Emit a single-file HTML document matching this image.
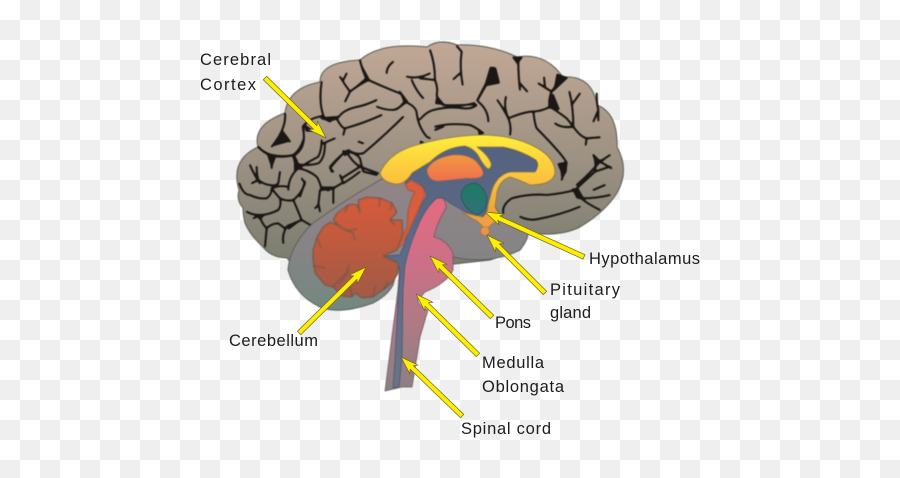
<!DOCTYPE html>
<html><head><meta charset="utf-8"><style>
html,body{margin:0;padding:0;background:#fff}
svg{display:block}
text{font-family:"Liberation Sans",sans-serif;font-size:16.5px;fill:#1c1c1c}
</style></head><body>
<svg xmlns="http://www.w3.org/2000/svg" width="900" height="478" viewBox="0 0 900 478">
<defs>
<filter id="soft" x="-5%" y="-5%" width="110%" height="110%" color-interpolation-filters="sRGB">
<feGaussianBlur stdDeviation="0.7"/>
<feComponentTransfer><feFuncA type="linear" slope="3" intercept="-0.8"/></feComponentTransfer>
</filter>
<filter id="soft2" x="-5%" y="-5%" width="110%" height="110%" color-interpolation-filters="sRGB">
<feGaussianBlur stdDeviation="0.45"/>
</filter>
<pattern id="ck" width="40" height="40" patternUnits="userSpaceOnUse">
<rect width="40" height="40" fill="#fff"/>
<rect x="20" width="20" height="20" fill="#efefef"/>
<rect y="20" width="20" height="20" fill="#efefef"/>
</pattern>
<linearGradient id="cx" gradientUnits="userSpaceOnUse" x1="0" y1="42" x2="0" y2="260">
<stop offset="0" stop-color="#c2a896"/><stop offset=".5" stop-color="#9f9384"/><stop offset="1" stop-color="#7c7d70"/>
</linearGradient>
<linearGradient id="gr" gradientUnits="userSpaceOnUse" x1="0" y1="170" x2="0" y2="312">
<stop offset="0" stop-color="#948488"/><stop offset=".55" stop-color="#868486"/><stop offset="1" stop-color="#72897f"/>
</linearGradient>
<linearGradient id="bl" gradientUnits="userSpaceOnUse" x1="0" y1="140" x2="0" y2="390">
<stop offset="0" stop-color="#56627f"/><stop offset=".4" stop-color="#5a6a88"/><stop offset="1" stop-color="#6a7588"/>
</linearGradient>
<linearGradient id="ye" gradientUnits="userSpaceOnUse" x1="0" y1="135" x2="0" y2="215">
<stop offset="0" stop-color="#ffee3c"/><stop offset=".5" stop-color="#fcc63e"/><stop offset="1" stop-color="#f0a03e"/>
</linearGradient>
<linearGradient id="or" gradientUnits="userSpaceOnUse" x1="0" y1="155" x2="0" y2="182">
<stop offset="0" stop-color="#f2983f"/><stop offset="1" stop-color="#ef6e50"/>
</linearGradient>
<linearGradient id="te" gradientUnits="userSpaceOnUse" x1="0" y1="182" x2="0" y2="216">
<stop offset="0" stop-color="#1a7d62"/><stop offset="1" stop-color="#33707a"/>
</linearGradient>
<linearGradient id="pk" gradientUnits="userSpaceOnUse" x1="0" y1="195" x2="0" y2="390">
<stop offset="0" stop-color="#e66a80"/><stop offset=".35" stop-color="#cc7088"/><stop offset=".65" stop-color="#b07a84"/><stop offset="1" stop-color="#8a8084"/>
</linearGradient>
<linearGradient id="rd" gradientUnits="userSpaceOnUse" x1="0" y1="195" x2="0" y2="300">
<stop offset="0" stop-color="#d85a3a"/><stop offset=".6" stop-color="#b65a40"/><stop offset="1" stop-color="#a05a48"/>
</linearGradient>
</defs>
<rect width="900" height="478" fill="url(#ck)"/>

<g filter="url(#soft2)">
<!-- cortex silhouette -->
<path fill="url(#cx)" stroke="#5a5a50" stroke-width="1" stroke-linejoin="round" d="M287,258 Q272,258 263,247 Q250,235 245,223 Q243,215 243,208 Q236,200 239,190 Q230,160 258,147 Q252,125 285,113 Q288,88 320,82 Q320,62 360,60 Q380,42 427,47 Q440,38 457,45 Q490,44 517,57 Q545,52 563,77 Q592,75 597,105 Q618,113 617,147 Q630,170 617,193 Q605,212 580,227 Q560,237 528,233 L520,250 L490,260 L400,270 L300,275 Z"/>

<g filter="url(#soft)">
<!-- sulci: zoom 1 -->
<g transform="translate(230,30) scale(.33333)" fill="none" stroke="#1a1714" stroke-width="5.5" stroke-linecap="round" stroke-linejoin="round">
<path d="M165,250Q170,295 125,350M158,305Q170,320 180,335"/>
<path d="M275,155Q265,220 282,262M280,258Q240,262 218,290Q232,350 195,375Q150,385 120,375Q100,368 85,350"/>
<path d="M275,265Q310,275 325,262Q340,240 375,232Q410,225 440,210"/>
<path d="M390,90Q400,135 415,150Q385,165 360,185L345,215M360,185Q345,165 330,140M340,150L350,130"/>
<path d="M415,150Q470,175 510,190Q525,200 525,215Q510,235 490,240Q465,240 440,230M525,215Q560,230 560,250Q565,290 590,320L600,325"/>
<path d="M470,130Q470,110 490,95M530,140Q565,148 600,130M545,150Q560,185 580,205"/>
<path d="M320,265Q335,295 345,295Q400,280 455,255M345,295L340,315"/>
<path d="M520,260Q460,320 400,370Q375,375 355,360Q330,375 300,410L305,425M385,335L400,340"/>
<path d="M280,340L315,325M285,340Q285,385 265,400Q225,410 195,400L195,420"/>
<path d="M350,365Q365,395 390,410L445,430M390,410L335,445"/>
<path d="M125,375L125,410M60,405Q75,440 90,460"/>
<polygon fill="#1a1714" stroke="none" points="220,280 255,305 228,305"/>
<polygon fill="#1a1714" stroke="none" points="505,175 535,215 495,245 520,215"/>
<polygon fill="#1a1714" stroke="none" points="270,262 325,258 300,278"/>
<polygon fill="#1a1714" stroke="none" points="160,305 125,350 178,335"/>
<polygon fill="#1a1714" stroke="none" points="385,85 420,150 370,175 405,145"/>
</g>

<!-- sulci: zoom 2 -->
<g transform="translate(420,30) scale(.33333)" fill="none" stroke="#1a1714" stroke-width="5.5" stroke-linecap="round" stroke-linejoin="round">
<path d="M110,48L125,65Q118,110 128,165M120,130L100,148"/>
<path d="M0,145L45,150Q55,175 50,195Q55,215 70,225Q120,228 165,222M30,60Q45,100 45,150"/>
<path d="M175,215Q205,240 205,275"/>
<path d="M45,290Q90,278 150,285Q175,295 185,310M45,300L70,290"/>
<path d="M0,268Q20,245 40,240Q90,228 130,235Q155,238 170,225"/>
<path d="M295,95Q295,140 300,180M300,160L322,185"/>
<path d="M232,210Q250,235 265,265Q250,230 258,200M265,265Q275,290 270,315M265,265Q300,250 330,245Q365,245 390,230Q385,205 395,185L425,140M395,185L355,160M375,170L372,142"/>
<path d="M390,230Q420,250 440,265L460,290Q480,320 500,325L540,322M500,325L497,345M460,290Q460,230 448,185M455,225L480,190M460,290Q425,295 405,280"/>
<path d="M530,190Q530,220 535,240L520,275M535,245L535,272"/>
<path d="M340,245Q345,285 350,295Q390,335 420,370Q440,395 440,400L425,450"/>
<path d="M520,375L540,395Q500,440 470,465M540,395L570,375M540,395L575,415M555,465L520,480"/>
<polygon fill="#1a1714" stroke="none" points="210,110 228,112 240,160 200,168 175,212 130,226 165,218 195,160"/>
<polygon fill="#1a1714" stroke="none" points="275,80 310,80 292,103"/>
<polygon fill="#1a1714" stroke="none" points="410,130 445,143 400,185"/>
<polygon fill="#1a1714" stroke="none" points="50,195 75,225 45,222"/>
<polygon fill="#1a1714" stroke="none" points="412,400 442,395 440,425 425,450 422,425"/>
<polygon fill="#1a1714" stroke="none" points="385,210 400,190 420,240 385,235"/>
<polygon fill="#1a1714" stroke="none" points="175,295 195,310 175,315"/>
<polygon fill="#1a1714" stroke="none" points="0,330 25,345 0,348"/>
</g>

<!-- sulci: lower right -->
<g transform="translate(440,130) scale(.33333)" fill="none" stroke="#1a1714" stroke-width="5.5" stroke-linecap="round" stroke-linejoin="round">
<path d="M190,250Q185,225 215,205Q270,190 320,195Q370,190 405,180Q410,205 480,240"/>
<path d="M405,180L425,205Q470,205 510,195"/>
<path d="M405,180L465,125Q470,95 460,75M465,125L510,110M465,95L490,90"/>
<path d="M240,260Q265,272 290,268Q360,255 420,230"/>
<polygon fill="#1a1714" stroke="none" points="395,175 415,175 435,210 410,205"/>
</g>

<!-- sulci: left lobe -->
<g transform="translate(230,140) scale(.33333)" fill="none" stroke="#1a1714" stroke-width="5.5" stroke-linecap="round" stroke-linejoin="round">
<path d="M85,22Q105,40 125,45Q160,52 190,45Q210,30 220,0"/>
<path d="M28,130Q40,165 60,165Q85,178 110,175Q125,165 125,145Q150,135 170,140"/>
<path d="M80,80Q80,105 85,120Q105,135 120,135Q135,140 145,130L150,95M85,120L65,130"/>
<path d="M125,45L125,85"/>
<path d="M190,45Q205,65 205,85Q175,110 175,150M205,85Q235,90 260,110Q270,125 275,150L310,145M270,150L265,195L255,205M265,190L270,215"/>
<path d="M125,145Q140,165 150,175Q155,195 145,210Q115,225 90,225Q65,225 50,215M90,225L70,235"/>
<path d="M150,175Q170,185 190,180Q205,215 215,240Q190,250 170,260Q155,285 160,310M215,240L250,260M190,180Q215,160 225,130L215,115M225,125L210,170"/>
<path d="M90,230Q95,250 110,265Q125,250 145,250L165,265M110,265L105,320"/>
<path d="M310,145L310,190M345,35Q375,35 390,55Q395,80 400,95L440,105M345,35Q315,65 300,85L310,95M390,95Q365,115 340,130L330,105M335,130L310,145"/>
<path d="M275,0Q275,30 265,50Q235,65 205,85"/>
<polygon fill="#1a1714" stroke="none" points="110,40 140,45 125,85"/>
<polygon fill="#1a1714" stroke="none" points="185,40 210,85 195,80"/>
<polygon fill="#1a1714" stroke="none" points="75,225 105,225 90,240"/>
<polygon fill="#1a1714" stroke="none" points="270,140 315,140 295,155"/>
<polygon fill="#1a1714" stroke="none" points="170,255 215,240 175,270"/>
<polygon fill="#1a1714" stroke="none" points="335,30 360,35 345,50"/>
</g>
</g>

<!-- grey interior -->
<path fill="url(#gr)" stroke="#5f5f5a" stroke-width="1" stroke-linejoin="round" d="M380,180 Q345,200 313,223 Q290,245 288,270 Q295,295 320,307 Q340,315 373,303 Q388,295 393,285 L400,260 L453,257 Q490,265 520,250 Q528,240 528,233 Q510,228 502,217 L495,207 L495,190 L470,150 L430,160 L400,170 Z"/>

<!-- stem -->
<path fill="url(#pk)" stroke="#6a5a60" stroke-width=".8" stroke-linejoin="round" d="M437,198 L443,198 Q447,205 446,208 Q436,225 434,237 Q447,240 453,253 L453,270 Q447,283 425,292 L418,300 Q418,305 428,310 L420,337 L412,387 L402,387 L385,391 L395,313 L398,290 L400,260 Q405,240 415,227 Q425,205 437,198 Z"/>

<!-- blue -->
<path fill="url(#bl)" stroke="#4a5068" stroke-width=".7" stroke-linejoin="round" d="M405,183 L412,173 L430,160 L447,148 L470,146 L503,147 L523,153 L538,162 L535,172 L510,172 L498,177 L493,187 L488,207 L483,217 L473,215 L462,210 L450,203 L443,198 L437,198 Q425,208 417,228 Q409,247 405,265 L403,290 L402,357 L399,387 L393,388 L395,360 L398,300 L400,270 L397,262 L383,256 L400,255 L405,243 L410,225 L417,213 L427,195 L423,186 L410,183 Z"/>

<!-- red twisted structure -->
<polygon filter="url(#soft)" fill="#d85e3e" stroke="#8a5040" stroke-width=".7" stroke-linejoin="round" points="405,185 411,180 415,182 423,187 425,195 417,213 408,233 402,245 397,248 407,227 408,210 412,197 415,192 408,190"/>

<!-- cerebellum -->
<g filter="url(#soft)">
<polygon fill="url(#rd)" stroke="#6a5a50" stroke-width="1" stroke-linejoin="round" points="313,250 317,237 323,227 330,222 337,225 342,228 333,220 337,213 348,205 352,204 357,205 360,213 358,200 367,197 380,198 392,203 397,212 390,220 402,220 403,233 397,250 383,256 398,263 398,273 392,283 383,290 373,297 362,298 355,293 352,297 342,296 333,287 325,285 315,273 313,260"/>
<g fill="none" stroke="#6a5548" stroke-width="1" stroke-linecap="round">
<path d="M342,228L353,233L355,240M346,231L357,229M317,238L321,248M313,266L325,268M333,287L346,273L349,265M340,283L350,270M380,198L379,207M392,203L390,210M390,220L395,225M383,290L388,282M373,297L375,286M352,297L350,287M348,205L345,212"/>
</g>
</g>

<!-- orange oval -->
<path fill="url(#or)" stroke="#b96a40" stroke-width=".7" d="M427,170 Q432,158 453,155 Q472,154 479,165 Q485,172 482,176 Q478,179 467,178 Q450,180 437,181 Q428,180 427,170 Z"/>

<!-- yellow -->
<path fill="url(#ye)" stroke="#8a7a3a" stroke-width=".8" stroke-linejoin="round" d="M380,173 Q388,155 410,147 Q445,136 480,135 Q515,135 537,148 Q555,158 555,173 Q553,185 530,185 Q520,180 510,177 Q500,180 497,192 L495,207 Q498,213 502,216 L491,225 L488,228 L483,227 Q478,221 473,219 L462,212 L473,215 L483,217 Q488,212 488,205 L492,190 Q497,175 510,172 L535,172 Q540,165 536,160 Q520,150 503,147 L477,147 Q488,155 491,163 Q492,168 488,169 Q483,165 478,155 Q473,148 465,146 Q445,147 430,162 Q420,168 412,173 Q405,185 395,184 Q382,182 380,173 Z"/>
<circle cx="485" cy="231" r="4.5" fill="#e8944a" stroke="#a96a3a" stroke-width=".6"/>

<!-- teal -->
<path fill="url(#te)" stroke="#27505a" stroke-width=".8" d="M461,195 Q463,184 475,183 Q484,186 487,198 Q488,210 477,215 Q462,208 461,195 Z"/>
</g>

<!-- arrows -->
<g fill="#ffee00" stroke="#6b6a20" stroke-width=".7" stroke-linejoin="round">
<polygon transform="translate(326,138) rotate(44.5)" points="0,0 -18,-6 -15,-2.4 -85.6,-2.4 -85.6,2.4 -15,2.4 -18,6"/>
<polygon transform="translate(485,212) rotate(204.4)" points="0,0 -18,-6 -15,-2.4 -108.7,-2.4 -108.7,2.4 -15,2.4 -18,6"/>
<polygon transform="translate(487,235) rotate(225)" points="0,0 -18,-6 -15,-2.4 -82,-2.4 -82,2.4 -15,2.4 -18,6"/>
<polygon transform="translate(430,256) rotate(224.5)" points="0,0 -18,-6 -15,-2.4 -87,-2.4 -87,2.4 -15,2.4 -18,6"/>
<polygon transform="translate(416,294) rotate(224.5)" points="0,0 -18,-6 -15,-2.4 -87,-2.4 -87,2.4 -15,2.4 -18,6"/>
<polygon transform="translate(401,357) rotate(224)" points="0,0 -18,-6 -15,-2.4 -85,-2.4 -85,2.4 -15,2.4 -18,6"/>
<polygon transform="translate(366,267) rotate(-44.6)" points="0,0 -18,-6 -15,-2.4 -94,-2.4 -94,2.4 -15,2.4 -18,6"/>
</g>

<!-- labels -->
<text x="200" y="65" textLength="71" lengthAdjust="spacing">Cerebral</text>
<text x="200" y="90" textLength="56" lengthAdjust="spacing">Cortex</text>
<text x="589" y="264" textLength="111" lengthAdjust="spacing">Hypothalamus</text>
<text x="550" y="295" textLength="70" lengthAdjust="spacing">Pituitary</text>
<text x="550" y="318" textLength="41" lengthAdjust="spacing">gland</text>
<text x="495" y="328" textLength="36" lengthAdjust="spacing">Pons</text>
<text x="482" y="368" textLength="62" lengthAdjust="spacing">Medulla</text>
<text x="482" y="392" textLength="82" lengthAdjust="spacing">Oblongata</text>
<text x="461" y="434" textLength="90" lengthAdjust="spacing">Spinal cord</text>
<text x="229" y="346" textLength="89" lengthAdjust="spacing">Cerebellum</text>
</svg>
</body></html>
